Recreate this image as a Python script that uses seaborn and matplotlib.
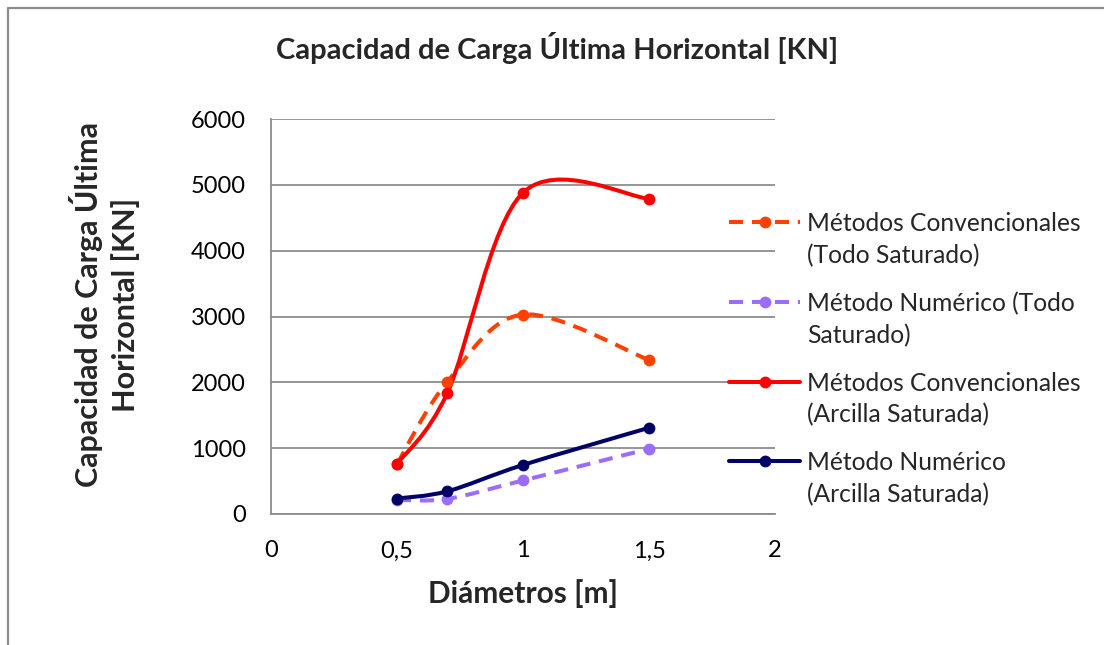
import numpy as np
import pandas as pd
import seaborn as sns
import matplotlib
matplotlib.use("Agg")
import matplotlib.pyplot as plt
from matplotlib.path import Path
from matplotlib.patches import PathPatch
from matplotlib.lines import Line2D
from matplotlib.legend_handler import HandlerLine2D

# ---- data ----
diametros = [0.5, 0.7, 1.0, 1.5]
conv_todo = [760, 2010, 3030, 2340]
num_todo = [215, 230, 510, 990]
conv_arcilla = [760, 1840, 4880, 4790]
num_arcilla = [235, 345, 745, 1310]

series_labels = [
    "Métodos Convencionales\n(Todo Saturado)",
    "Método Numérico (Todo\nSaturado)",
    "Métodos Convencionales\n(Arcilla Saturada)",
    "Método Numérico\n(Arcilla Saturada)",
]
series_values = [conv_todo, num_todo, conv_arcilla, num_arcilla]
series_colors = ["#FF4000", "#9B6DFF", "#FF0000", "#000066"]
series_dashed = [True, True, False, False]

x_ticks = [0, 0.5, 1, 1.5, 2]
x_ticklabels = ["0", "0,5", "1", "1,5", "2"]
y_ticks = [0, 1000, 2000, 3000, 4000, 5000, 6000]

title = "Capacidad de Carga Última Horizontal [KN]"
xlabel = "Diámetros [m]"
ylabel = "Capacidad de Carga Última\nHorizontal [KN]"

# ---- style ----
sns.set_theme(style="white")
plt.rcParams["font.family"] = ["Lato", "DejaVu Sans"]

W, H = 1104, 645
fig = plt.figure(figsize=(W / 100, H / 100), dpi=100)
ax = fig.add_axes([271 / W, 1 - 514 / H, (775 - 271) / W, (514 - 119) / H])

LW = 2.9
MS = 8.5
LEG_FS = 17.7
LEG_LS = 1.45


def smooth_path(xs, ys):
    """Excel-style smoothed line as cubic Bezier segments."""
    pts = np.column_stack([xs, ys]).astype(float)
    n = len(pts)
    verts = [pts[0]]
    codes = [Path.MOVETO]
    for i in range(n - 1):
        p0 = pts[i - 1] if i > 0 else pts[i]
        p1 = pts[i]
        p2 = pts[i + 1]
        p3 = pts[i + 2] if i + 2 < n else pts[i + 1]
        c1 = p1 + (p2 - p0) / 6.0
        c2 = p2 - (p3 - p1) / 6.0
        verts += [c1, c2, p2]
        codes += [Path.CURVE4] * 3
    return Path(np.array(verts), codes)


class FirstLineHandler(HandlerLine2D):
    """Place the legend handle beside the first line of a two-line label."""

    def __init__(self, shift, **kw):
        super().__init__(**kw)
        self.shift = shift

    def create_artists(self, legend, orig_handle, xdescent, ydescent,
                       width, height, fontsize, trans):
        return super().create_artists(legend, orig_handle, xdescent,
                                      ydescent - self.shift, width, height,
                                      fontsize, trans)


handles = []
for lab, vals, col, dashed in zip(series_labels, series_values, series_colors, series_dashed):
    ls = (0, (3.5, 2.2)) if dashed else "-"
    patch = PathPatch(smooth_path(diametros, vals), fill=False, edgecolor=col,
                      linewidth=LW, linestyle=ls, capstyle="butt", joinstyle="round")
    ax.add_patch(patch)
    df = pd.DataFrame({"x": diametros, "y": vals})
    sns.scatterplot(data=df, x="x", y="y", ax=ax, color=col, s=MS ** 2,
                    edgecolor=col, linewidth=0, zorder=3, legend=False)
    handles.append(Line2D([], [], color=col, lw=LW, linestyle=ls, marker="o",
                          markersize=MS, markeredgewidth=0))

ax.set_xlim(0, 2)
ax.set_ylim(0, 6000)
ax.set_xticks(x_ticks)
ax.set_xticklabels(x_ticklabels)
ax.set_yticks(y_ticks)
ax.set_xlabel(xlabel, fontsize=21.5, fontweight="bold")
ax.set_ylabel(ylabel, fontsize=22, fontweight="bold", linespacing=1.32)
ax.xaxis.set_label_coords(0.5, (514 - 579) / 395)
ax.yaxis.set_label_coords((140 - 271) / 504, 0.53)
ax.tick_params(axis="both", length=0, labelsize=17, colors="black")
ax.tick_params(axis="x", pad=19)
ax.tick_params(axis="y", pad=18)

ax.grid(axis="y", color="#8C8C8C", linewidth=1.3)
ax.grid(axis="x", visible=False)
for side in ["top", "right"]:
    ax.spines[side].set_visible(False)
for side in ["left", "bottom"]:
    ax.spines[side].set_color("#8C8C8C")
    ax.spines[side].set_linewidth(1.3)

fig.text(557 / W, 1 - 48 / H, title, ha="center", va="center",
         fontsize=21, fontweight="bold")

shift_pt = 0.5 * 33 * 72 / 100 + 20 * 72 / 100
leg = ax.legend(handles, series_labels, loc="upper left",
                bbox_to_anchor=(707 / W, 1 - 190 / H), bbox_transform=fig.transFigure,
                frameon=False, fontsize=LEG_FS, handlelength=2.9, handletextpad=0.28,
                labelspacing=1.0,
                handler_map={Line2D: FirstLineHandler(shift_pt)})
for t in leg.get_texts():
    t.set_linespacing(LEG_LS)

# outer border (partial frame of the embedded chart)
fig.add_artist(Line2D([8 / W, 8 / W], [0, 1 - 8 / H], transform=fig.transFigure,
                      color="#8C8C8C", lw=1.6))
fig.add_artist(Line2D([8 / W, 1], [1 - 8 / H, 1 - 8 / H], transform=fig.transFigure,
                      color="#8C8C8C", lw=1.6))

fig.savefig("out.png", dpi=100)
